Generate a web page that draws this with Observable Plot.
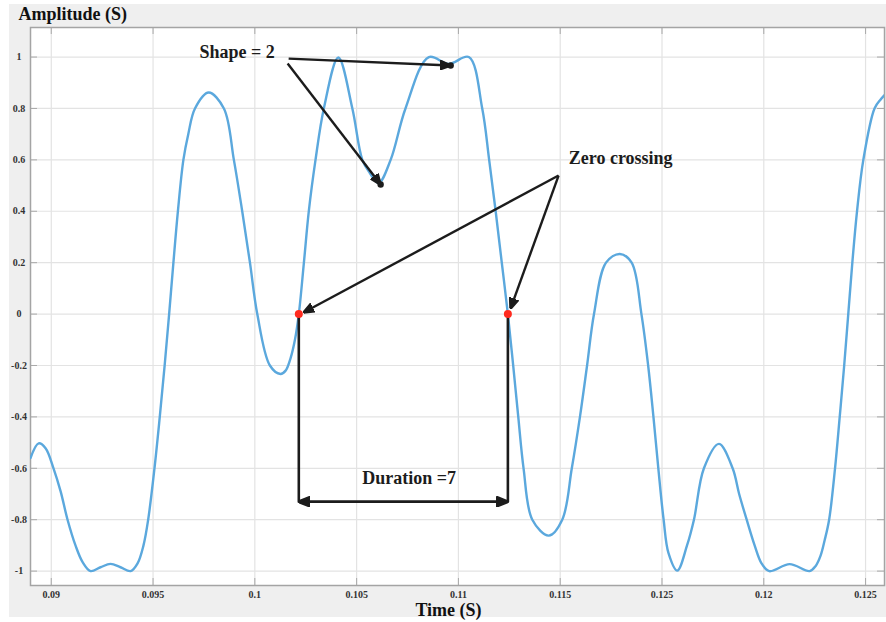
<!DOCTYPE html>
<html><head><meta charset="utf-8">
<script src="https://cdn.jsdelivr.net/npm/d3@7"></script>
<script src="https://cdn.jsdelivr.net/npm/@observablehq/plot@0.6"></script>
<style>
html,body{margin:0;padding:0;background:#fff;}
#wrap{position:relative;width:886px;height:622px;overflow:hidden;}
#bg{position:absolute;left:9px;top:4px;width:877px;height:613px;background:#efefef;}
#chart{position:absolute;left:0;top:0;}
</style></head><body><div id="wrap"><div id="bg"></div><div id="chart"></div></div>
<script>
// ---- data ----
const time = [0.08898, 0.08938, 0.08972, 0.09011, 0.09046, 0.09080, 0.09119, 0.09154, 0.09193, 0.09242,
  0.09291, 0.09340, 0.09390, 0.09424, 0.09453, 0.09476, 0.09507, 0.09533, 0.09557, 0.09579,
  0.09600, 0.09622, 0.09649, 0.09673, 0.09706, 0.09773, 0.09848, 0.09897, 0.09938, 0.09976,
  0.10012, 0.10074, 0.10126, 0.10151, 0.10176, 0.10197, 0.10216, 0.10241, 0.10265, 0.10298,
  0.10339, 0.10410, 0.10479, 0.10528, 0.10564, 0.10608, 0.10667, 0.10740, 0.10855, 0.10952,
  0.11051, 0.11117, 0.11151, 0.11183, 0.11213, 0.11243, 0.11269, 0.11294, 0.11320, 0.11363,
  0.11444, 0.11510, 0.11557, 0.11597, 0.11632, 0.11666, 0.11725, 0.11793, 0.11851, 0.11899,
  0.11932, 0.11958, 0.11982, 0.12008, 0.12032, 0.12075, 0.12123, 0.12157, 0.12206, 0.12280,
  0.12347, 0.12379, 0.12416, 0.12455, 0.12489, 0.12527, 0.12627, 0.12725, 0.12755, 0.12779,
  0.12799, 0.12821, 0.12850, 0.12873, 0.12895, 0.12915, 0.12935, 0.12958, 0.12989, 0.13044,
  0.13074, 0.13093];
const amplitude = [-0.56, -0.503, -0.522, -0.6, -0.69, -0.8, -0.9, -0.965, -1.0, -0.985,
  -0.972, -0.985, -1.0, -0.97, -0.9, -0.8, -0.6, -0.4, -0.2, 0.0,
  0.2, 0.4, 0.6, 0.7, 0.8, 0.862, 0.8, 0.6, 0.4, 0.2,
  0.0, -0.2, -0.233, -0.22, -0.17, -0.1, 0.0, 0.2, 0.4, 0.6,
  0.8, 0.998, 0.8, 0.6, 0.55, 0.51, 0.6, 0.8, 1.0, 0.973,
  1.0, 0.8, 0.6, 0.4, 0.2, 0.0, -0.2, -0.4, -0.6, -0.8,
  -0.862, -0.8, -0.6, -0.4, -0.2, 0.0, 0.2, 0.234, 0.2, 0.0,
  -0.2, -0.4, -0.6, -0.8, -0.93, -0.998, -0.9, -0.8, -0.6, -0.505,
  -0.6, -0.7, -0.8, -0.9, -0.97, -1.0, -0.973, -1.0, -0.98, -0.94,
  -0.88, -0.8, -0.6, -0.4, -0.2, 0.0, 0.2, 0.4, 0.6, 0.8,
  0.835, 0.852];

const xTicks = [0.09, 0.095, 0.1, 0.105, 0.11, 0.115, 0.12, 0.125, 0.13];
const xTickLabels = ["0.09", "0.095", "0.1", "0.105", "0.11", "0.115", "0.125", "0.12", "0.125"];
const yTicks = [-1, -0.8, -0.6, -0.4, -0.2, 0, 0.2, 0.4, 0.6, 0.8, 1];
const yTickLabels = ["-1", "-0.8", "-0.6", "-0.4", "-0.2", "0", "0.2", "0.4", "0.6", "0.8", "1"];

const xTitle = "Time (S)";
const yTitle = "Amplitude (S)";

// annotations (data coordinates)
const zeroCrossings = [0.10216, 0.11243];
const durationLevel = -0.73;
const shapeArrows = [
  {x1: 0.10166, y1: 0.994, x2: 0.10962, y2: 0.967},
  {x1: 0.10161, y1: 0.975, x2: 0.10618, y2: 0.504}
];
const zeroArrows = [
  {x1: 0.11492, y1: 0.539, x2: 0.10239, y2: 0.006},
  {x1: 0.11492, y1: 0.539, x2: 0.11256, y2: 0.021}
];
const notes = [
  {label: "Shape = 2", x: 0.09913, y: 1.019},
  {label: "Zero crossing", x: 0.11797, y: 0.608},
  {label: "Duration =7", x: 0.10758, y: -0.637}
];

// ---- build ----
const signal = time.map((t, i) => ({t, a: amplitude[i]}));
const xLab = new Map(xTicks.map((d, i) => [d, xTickLabels[i]]));
const yLab = new Map(yTicks.map((d, i) => [d, yTickLabels[i]]));
const bracket = [
  {t: zeroCrossings[0], a: 0}, {t: zeroCrossings[0], a: durationLevel},
  {t: zeroCrossings[1], a: durationLevel}, {t: zeroCrossings[1], a: 0}
];
const durationArrow = [{x1: zeroCrossings[0], x2: zeroCrossings[1], y: durationLevel}];
const shapeEnds = shapeArrows.map(d => ({x: d.x2, y: d.y2}));
const zeros = zeroCrossings.map(t => ({t, a: 0}));

const W = 886, H = 622, mL = 30, mT = 27, mR = 2, mB = 37;
const plotW = W - mL - mR, plotH = H - mT - mB;
const ink = "#1c1c1c";
const tickColor = "#a9a9a9";
const serif = "'Liberation Serif', 'Times New Roman', serif";

const tri = () => d3.create("svg:marker")
  .attr("viewBox", "-10 -5 10 10")
  .attr("markerWidth", 4.4).attr("markerHeight", 4.4)
  .attr("markerUnits", "strokeWidth")
  .attr("orient", "auto-start-reverse")
  .attr("fill", ink)
  .call(m => m.append("path").attr("d", "M-10,-4L0,0L-10,4Z"))
  .node();

const chart = Plot.plot({
  width: W, height: H,
  marginLeft: mL, marginTop: mT, marginRight: mR, marginBottom: mB,
  style: {background: "transparent", fontFamily: serif},
  x: {domain: [0.08898, 0.13093], label: null},
  y: {domain: [-1.056, 1.115], label: null},
  marks: [
    Plot.frame({fill: "white", stroke: "none"}),
    Plot.gridX(xTicks, {stroke: "#e3e3e3", strokeOpacity: 1, strokeWidth: 1.2}),
    Plot.gridY(yTicks, {stroke: "#e3e3e3", strokeOpacity: 1, strokeWidth: 1.2}),
    Plot.tickX(xTicks, {x: d => d, insetTop: plotH - 7, stroke: tickColor}),
    Plot.tickX(xTicks, {x: d => d, insetBottom: plotH - 7, stroke: tickColor}),
    Plot.tickY(yTicks, {y: d => d, insetRight: plotW - 7, stroke: tickColor}),
    Plot.tickY(yTicks, {y: d => d, insetLeft: plotW - 7, stroke: tickColor}),
    Plot.frame({stroke: "#a4a4a4", strokeWidth: 1.5}),
    Plot.axisX(xTicks, {tickSize: 0, tickPadding: 5, label: null, tickFormat: d => xLab.get(d),
      fontSize: 10, fontWeight: "bold", fill: "#333"}),
    Plot.axisY(yTicks, {tickSize: 0, tickPadding: 11.5, textAnchor: "middle", label: null,
      tickFormat: d => yLab.get(d), fontSize: 10, fontWeight: "bold", fill: "#333"}),
    Plot.text([yTitle], {frameAnchor: "top-left", text: d => d, dx: -12, dy: -7.5,
      textAnchor: "start", lineAnchor: "bottom", fontSize: 18, fontWeight: "bold", fill: "#111"}),
    Plot.text([xTitle], {frameAnchor: "bottom", text: d => d, dx: -9, dy: 30,
      textAnchor: "middle", lineAnchor: "bottom", fontSize: 18, fontWeight: "bold", fill: "#111"}),
    Plot.line(signal, {x: "t", y: "a", stroke: "#5ba8dd", strokeWidth: 2.4, curve: "catmull-rom", clip: true}),
    Plot.line(bracket, {x: "t", y: "a", stroke: ink, strokeWidth: 2.6}),
    Plot.link(durationArrow, {x1: "x1", x2: "x2", y1: "y", y2: "y", stroke: ink, strokeWidth: 2.6,
      markerStart: tri, markerEnd: tri}),
    Plot.link(shapeArrows, {x1: "x1", y1: "y1", x2: "x2", y2: "y2", stroke: ink, strokeWidth: 2.4, markerEnd: tri}),
    Plot.dot(shapeEnds, {x: "x", y: "y", r: 3.2, fill: ink}),
    Plot.link(zeroArrows, {x1: "x1", y1: "y1", x2: "x2", y2: "y2", stroke: ink, strokeWidth: 2.4, markerEnd: tri}),
    Plot.dot(zeros, {x: "t", y: "a", r: 4, fill: "#ff2a1e"}),
    Plot.text(notes, {x: "x", y: "y", text: "label", fontSize: 18, fontWeight: "bold", fill: ink})
  ]
});
document.getElementById("chart").appendChild(chart);
</script></body></html>
